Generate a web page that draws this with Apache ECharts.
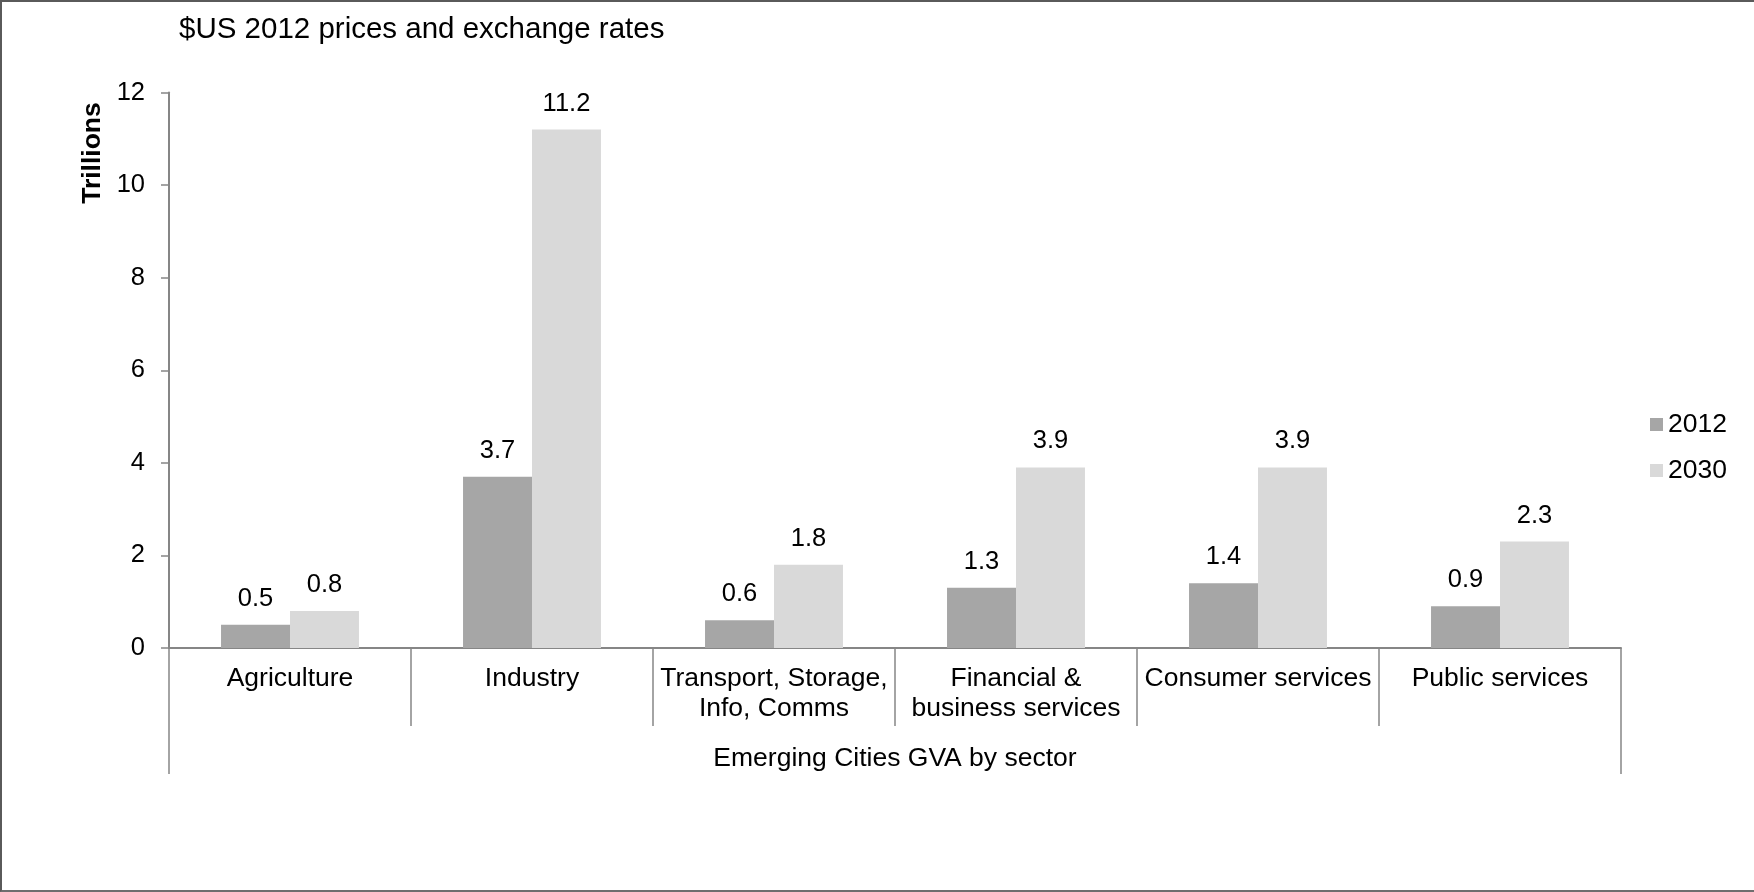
<!DOCTYPE html>
<html>
<head>
<meta charset="utf-8">
<title>Emerging Cities GVA by sector</title>
<script src="https://cdn.jsdelivr.net/npm/echarts@6/dist/echarts.min.js"></script>
<style>
  html, body { margin: 0; padding: 0; background: #fff; }
  #wrap { position: relative; width: 1754px; height: 892px; }
  #chart { position: absolute; left: 0; top: 0; width: 1754px; height: 892px; }
  #frame {
    position: absolute; left: 0; top: 0; width: 1754px; height: 892px;
    box-sizing: border-box; pointer-events: none;
    border-left: 2px solid #5a5a5a; border-top: 2px solid #5a5a5a; border-bottom: 2px solid #6e6e6e;
  }
</style>
</head>
<body>
<div id="wrap">
  <div id="chart"></div>
  <div id="frame"></div>
</div>
<script>
// Sectors along the category axis
const sectors = [
  'Agriculture',
  'Industry',
  'Transport, Storage,\nInfo, Comms',
  'Financial &\nbusiness services',
  'Consumer services',
  'Public services'
];
// Gross value added, trillions of US$ (2012 prices and exchange rates)
const gva2012 = [0.5, 3.7, 0.6, 1.3, 1.4, 0.9];
const gva2030 = [0.8, 11.2, 1.8, 3.9, 3.9, 2.3];
const seriesNames = ['2012', '2030'];
const groupLabel = ['Emerging Cities GVA by sector'];
const yTicks = { min: 0, max: 12, interval: 2 };

const FONT = "'Liberation Sans', Arial, Helvetica, sans-serif";
const AXIS_GREY = '#868686';

const chart = echarts.init(document.getElementById('chart'), null, { renderer: 'canvas' });

const labelStyle = {
  show: true,
  position: 'top',
  distance: 13,
  color: '#000',
  fontFamily: FONT,
  fontSize: 25.5,
  lineHeight: 26,
  formatter: p => Number(p.value).toFixed(1)
};

chart.setOption({
  animation: false,
  backgroundColor: '#fff',
  textStyle: { fontFamily: FONT, color: '#000' },
  title: {
    text: '$US 2012 prices and exchange rates',
    left: 179,
    top: 15,
    padding: 0,
    textStyle: { fontFamily: FONT, fontSize: 29.5, fontWeight: 'normal', color: '#000' }
  },
  legend: {
    orient: 'vertical',
    left: 1650,
    top: 411,
    padding: 0,
    itemWidth: 13,
    itemHeight: 13,
    itemGap: 19,
    icon: 'rect',
    data: seriesNames,
    textStyle: { fontFamily: FONT, fontSize: 26.5, lineHeight: 26, color: '#000' }
  },
  grid: { left: 169, right: 133, top: 92.5, bottom: 244, containLabel: false },
  xAxis: [
    {
      type: 'category',
      data: sectors,
      position: 'bottom',
      axisLine: { show: true, onZero: true, lineStyle: { color: AXIS_GREY, width: 2 } },
      axisTick: { show: true, interval: 0, alignWithLabel: false, length: 78, lineStyle: { color: AXIS_GREY, width: 1.5 } },
      axisLabel: {
        interval: 0, margin: 16, color: '#000',
        fontFamily: FONT, fontSize: 26.5, lineHeight: 30, align: 'center'
      },
      splitLine: { show: false }
    },
    {
      type: 'category',
      data: groupLabel,
      position: 'bottom',
      offset: 0,
      axisLine: { show: false },
      axisTick: { show: true, interval: 0, length: 126, lineStyle: { color: AXIS_GREY, width: 1.5 } },
      axisLabel: { interval: 0, margin: 96, color: '#000', fontFamily: FONT, fontSize: 26.5, lineHeight: 30 },
      splitLine: { show: false }
    }
  ],
  yAxis: {
    type: 'value',
    min: yTicks.min,
    max: yTicks.max,
    interval: yTicks.interval,
    axisLine: { show: true, lineStyle: { color: AXIS_GREY, width: 2 } },
    axisTick: { show: true, inside: false, length: 8, lineStyle: { color: AXIS_GREY, width: 1.5 } },
    axisLabel: { margin: 24, color: '#000', fontFamily: FONT, fontSize: 25.5 },
    splitLine: { show: false }
  },
  graphic: [
    {
      type: 'text',
      x: 93,
      y: 153,
      rotation: Math.PI / 2,
      style: {
        text: 'Trillions',
        fill: '#000',
        font: "bold 26.5px 'Liberation Sans', Arial, sans-serif",
        align: 'center',
        verticalAlign: 'middle'
      }
    }
  ],
  series: [
    {
      name: seriesNames[0],
      type: 'bar',
      xAxisIndex: 0,
      data: gva2012,
      barGap: '0%',
      barCategoryGap: '43%',
      itemStyle: { color: '#A6A6A6' },
      label: labelStyle
    },
    {
      name: seriesNames[1],
      type: 'bar',
      xAxisIndex: 0,
      data: gva2030,
      barGap: '0%',
      barCategoryGap: '43%',
      itemStyle: { color: '#D9D9D9' },
      label: labelStyle
    }
  ]
});
</script>
</body>
</html>
